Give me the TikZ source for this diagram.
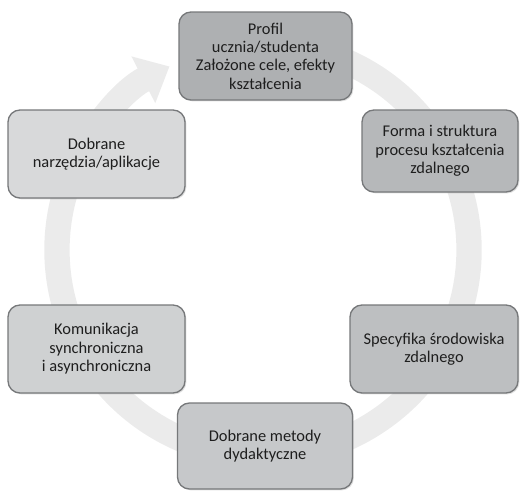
\documentclass[tikz,border=0pt]{standalone}
\usepackage{fontspec}
\setmainfont{Carlito}
\usetikzlibrary{arrows.meta,shadows}
\definecolor{ringc}{HTML}{EBEBEB}
\definecolor{bord}{HTML}{76787A}
\definecolor{txt}{HTML}{1E1E1E}
\definecolor{cA}{HTML}{AEB0B2}
\definecolor{cB}{HTML}{B6B8BA}
\definecolor{cC}{HTML}{BDBFC1}
\definecolor{cD}{HTML}{C6C8CA}
\definecolor{cE}{HTML}{CFD1D2}
\definecolor{cF}{HTML}{D8D9DA}
\tikzset{
  cyclebox/.style={draw=bord, line width=1pt, rounded corners=9pt,
    align=center, text=txt, font=\fontsize{12.3}{13.8}\selectfont,
    inner sep=2pt, drop shadow={shadow xshift=1pt, shadow yshift=-1pt, opacity=0.25}},
}
\begin{document}
\begin{tikzpicture}[x=0.75pt,y=-0.75pt]
\useasboundingbox (0,0) rectangle (520,490);
% ring arrow
\coordinate (rc) at (263,250);
\draw[ringc, line width=19pt, -{Triangle[length=22pt,width=38pt]}]
  ([shift={(-70:206)}]rc) coordinate (rs) arc[start angle=-70, end angle=243, radius=206] coordinate (re);
\node[cyclebox, fill=cA, minimum width=173*0.75pt, minimum height=88*0.75pt] (top) at (265.5,56)
  {Profil\\ucznia/studenta\\Założone cele, efekty\\kształcenia};
\node[cyclebox, fill=cB, minimum width=156*0.75pt, minimum height=82*0.75pt] (ru) at (440,151)
  {Forma i struktura\\procesu kształcenia\\zdalnego};
\node[cyclebox, fill=cC, minimum width=168*0.75pt, minimum height=88*0.75pt] (rl) at (434,349)
  {Specyfika środowiska\\zdalnego};
\node[cyclebox, fill=cD, minimum width=175*0.75pt, minimum height=86*0.75pt] (bot) at (265,446)
  {Dobrane metody\\dydaktyczne};
\node[cyclebox, fill=cE, minimum width=177*0.75pt, minimum height=88*0.75pt] (ll) at (96.5,349)
  {Komunikacja\\synchroniczna\\i asynchroniczna};
\node[cyclebox, fill=cF, minimum width=177*0.75pt, minimum height=88*0.75pt] (lu) at (96.5,154)
  {Dobrane\\narzędzia/aplikacje};
\end{tikzpicture}
\end{document}
